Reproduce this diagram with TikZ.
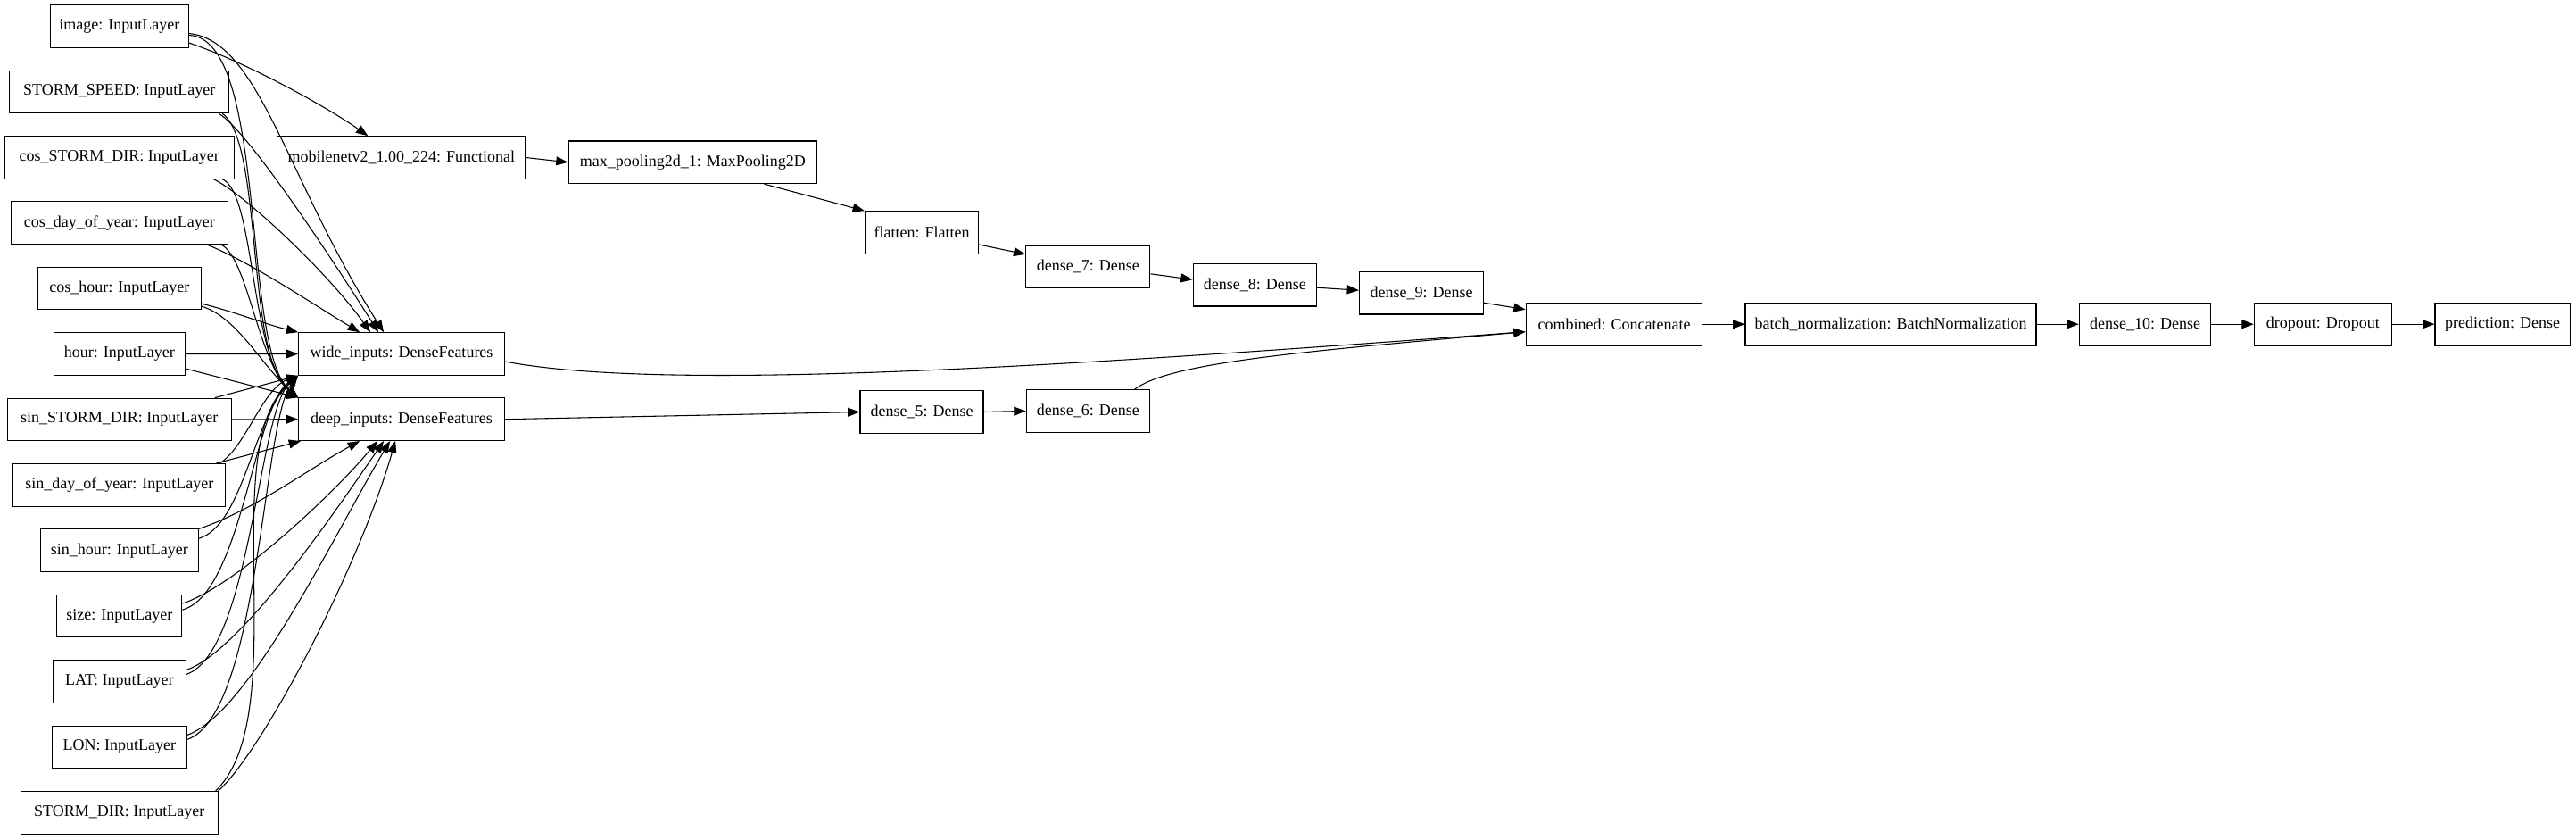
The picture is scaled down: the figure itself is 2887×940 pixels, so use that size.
\documentclass[tikz,border=0pt]{standalone}
\usepackage{fontspec}
\setmainfont{Liberation Serif}
\usetikzlibrary{arrows.meta,calc}

\begin{document}
\begin{tikzpicture}[x=0.75pt,y=0.75pt,
    layer/.style={draw,line width=0.8pt,rectangle,minimum height=35.7pt,inner xsep=0pt,inner ysep=0pt,font=\fontsize{13.5}{16}\selectfont},
    link/.style={-{Triangle[length=10pt,width=7.5pt]},line width=0.8pt}]
    \newcommand{\inx}{133.8} % centre of the input column
    \newcommand{\rowsp}{73.4} % vertical spacing of the inputs

    \useasboundingbox (0,0) rectangle (2887,-940);

    % input layers
    \foreach \nm/\txt/\w [count=\i from 0] in {img/image: InputLayer/116,
            speed/STORM\_SPEED: InputLayer/184.3,
            cosdir/cos\_STORM\_DIR: InputLayer/193,
            cosday/cos\_day\_of\_year: InputLayer/182.3,
            coshour/cos\_hour: InputLayer/137.3,
            hour/hour: InputLayer/110.3,
            sindir/sin\_STORM\_DIR: InputLayer/188.3,
            sinday/sin\_day\_of\_year: InputLayer/178.3,
            sinhour/sin\_hour: InputLayer/133,
            size/size: InputLayer/105.2,
            lat/LAT: InputLayer/111.5,
            lon/LON: InputLayer/113.3,
            stormdir/STORM\_DIR: InputLayer/165.5}
        \node[layer,minimum width=\w pt] (\nm) at (\inx,{-29.5-\i*\rowsp}) {\txt};

    % feature layers
    \node[layer,minimum width=173.1pt] (wide) at (450,-396.5) {wide\_inputs: DenseFeatures};
    \node[layer,minimum width=173.1pt] (deep) at (450,-469.7) {deep\_inputs: DenseFeatures};

    % image branch
    \node[layer,minimum width=208.4pt] (mob) at (449.8,-176.5) {mobilenetv2\_1.00\_224: Functional};
    \node[layer,minimum width=208.9pt] (pool) at (776.4,-181.8) {max\_pooling2d\_1: MaxPooling2D};
    \node[layer,minimum width=95.3pt] (flat) at (1033,-260.5) {flatten: Flatten};
    \node[layer,minimum width=104.3pt] (d7) at (1219.4,-298.8) {dense\_7: Dense};
    \node[layer,minimum width=103.8pt] (d8) at (1406.4,-319.2) {dense\_8: Dense};
    \node[layer,minimum width=104.3pt] (d9) at (1593,-328.2) {dense\_9: Dense};

    % deep branch
    \node[layer,minimum width=103.5pt] (d5) at (1033,-461.5) {dense\_5: Dense};
    \node[layer,minimum width=103.8pt] (d6) at (1219.4,-460.4) {dense\_6: Dense};

    % head
    \node[layer,minimum width=148.3pt] (comb) at (1809,-363.2) {combined: Concatenate};
    \node[layer,minimum width=244.5pt] (bn) at (2119,-363.2) {batch\_normalization: BatchNormalization};
    \node[layer,minimum width=110.5pt] (d10) at (2404,-363.2) {dense\_10: Dense};
    \node[layer,minimum width=115.7pt] (drop) at (2603.4,-363.2) {dropout: Dropout};
    \node[layer,minimum width=113.3pt] (pred) at (2804.5,-363.2) {prediction: Dense};

    % inputs into wide_inputs
    \draw[link] ($(img.east)+(0,-8)$) .. controls +(79,-7.5) and +(-110,173) .. ($(wide.north west)+(96,0)$);
    \draw[link] ($(speed.south east)+(-12,0)$) .. controls +(30,-17) and +(-60,95) .. ($(wide.north west)+(90,0)$);
    \draw[link] ($(cosdir.south east)+(-24,0)$) .. controls +(30,-13) and +(-50,70) .. ($(wide.north west)+(81,0)$);
    \draw[link] ($(cosday.south east)+(-24,0)$) .. controls +(50,-20) and +(-50,30) .. ($(wide.north west)+(69,0)$);
    \draw[link] ($(coshour.east)+(0,-17)$) .. controls +(40,-10) and +(-40,10) .. (wide.north west);
    \draw[link] (hour.east) -- (wide.west);
    \draw[link] ($(sindir.north east)+(-19,0)$) -- (wide.south west);
    \draw[link] ($(sinday.north east)+(-6.7,0)$) .. controls +(30,20) and +(-40,-15) .. (wide.south west);
    \draw[link] ($(sinhour.east)+(0,13.5)$) .. controls +(50,15) and +(-50,-45) .. (wide.south west);
    \draw[link] ($(size.east)+(0,7)$) .. controls +(66,18) and +(-49.3,-34.7) .. (wide.south west);
    \draw[link] ($(lat.east)+(0,8)$) .. controls +(72,25) and +(-44.3,-39.7) .. (wide.south west);
    \draw[link] ($(lon.east)+(0,8.5)$) .. controls +(80.7,28) and +(-39.3,-49.7) .. (wide.south west);
    \draw[link] ($(stormdir.north east)+(-3,0)$) .. controls +(89,86) and +(-94.3,-79.7) .. (wide.south west);

    % inputs into deep_inputs
    \draw[link] ($(img.east)+(0,-10)$) .. controls +(89,-2.5) and +(-64,56) .. (deep.north west);
    \draw[link] ($(speed.south east)+(-8,0)$) .. controls +(46.3,-33) and +(-59.3,46) .. (deep.north west);
    \draw[link] ($(cosdir.south east)+(-14,0)$) .. controls +(37,-15) and +(-54,46) .. (deep.north west);
    \draw[link] ($(cosday.south east)+(-8,0)$) .. controls +(30,-15) and +(-45,40) .. (deep.north west);
    \draw[link] ($(coshour.east)+(0,-20)$) .. controls +(40,-12) and +(-40,35) .. (deep.north west);
    \draw[link] ($(hour.east)+(0,-16.5)$) -- (deep.north west);
    \draw[link] (sindir.east) -- (deep.west);
    \draw[link] ($(sinday.north east)+(-10.7,0)$) -- ($(deep.south west)+(3,0)$);
    \draw[link] (sinhour.north east) .. controls +(60,20) and +(-60,-33) .. ($(deep.south west)+(69,0)$);
    \draw[link] ($(size.east)+(0,14)$) .. controls +(60,20) and +(-50,-60) .. ($(deep.south west)+(89,0)$);
    \draw[link] ($(lat.east)+(0,13)$) .. controls +(60,20) and +(-55,-80) .. ($(deep.south west)+(96,0)$);
    \draw[link] ($(lon.east)+(0,13.5)$) .. controls +(70,25) and +(-60,-100) .. ($(deep.south west)+(103,0)$);
    \draw[link] (stormdir.north east) .. controls +(50,45) and +(-40,-140) .. ($(deep.south west)+(109,0)$);

    % image branch
    \draw[link] ($(img.east)+(0,-18.5)$) .. controls +(60,-20) and +(-50,35) .. ($(mob.north west)+(102,0)$);
    \draw[link] (mob.east) -- (pool.west);
    \draw[link] ($(pool.south)+(80,0)$) -- (flat.north west);
    \draw[link] ($(flat.east)+(0,-13.5)$) -- ($(d7.west)+(0,14)$);
    \draw[link] ($(d7.east)+(0,-8)$) -- ($(d8.west)+(0,6)$);
    \draw[link] ($(d8.east)+(0,-3)$) -- ($(d9.west)+(0,3)$);
    \draw[link] ($(d9.east)+(0,-11)$) -- ($(comb.west)+(0,16.5)$);

    % wide and deep into the head
    \draw[link] ($(wide.east)+(0,-8.5)$) .. controls +(184.5,-35) and +(-510,-38) .. ($(comb.west)+(0,-8.5)$);
    \draw[link] (deep.east) -- (d5.west);
    \draw[link] (d5.east) -- (d6.west);
    \draw[link] ($(d6.north east)+(-17.5,0)$) .. controls +(40,30) and +(-250,-22) .. ($(comb.west)+(0,-8.5)$);

    % head chain
    \draw[link] (comb.east) -- (bn.west);
    \draw[link] (bn.east) -- (d10.west);
    \draw[link] (d10.east) -- (drop.west);
    \draw[link] (drop.east) -- (pred.west);
\end{tikzpicture}
\end{document}
